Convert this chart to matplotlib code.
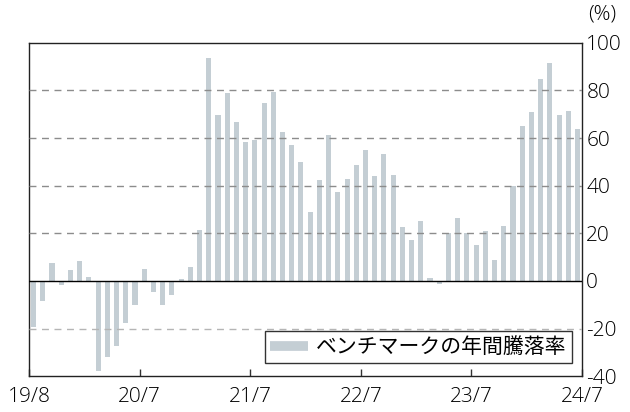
import matplotlib
matplotlib.use("Agg")
import matplotlib.pyplot as plt
from matplotlib.lines import Line2D

plt.rcParams['font.family'] = ['Open Sans', 'Noto Sans CJK JP', 'DejaVu Sans']

months = [f"{y}/{m}" for y, m in
          [(19, m) for m in range(8, 13)] + [(yy, m) for yy in range(20, 24) for m in range(1, 13)] + [(24, m) for m in range(1, 8)]]

values = [-19.4, -8.5, 7.5, -1.8, 4.5, 8.3, 1.5, -37.7, -32.0, -27.5, -17.7, -10.1,
          4.9, -4.6, -10.1, -6.0, 0.7, 5.8, 21.4, 93.7, 69.6, 78.9, 66.6, 58.2,
          59.4, 74.6, 79.3, 62.4, 56.9, 50.1, 29.0, 42.5, 61.1, 37.5, 43.0, 48.9,
          54.8, 44.2, 53.5, 44.6, 22.7, 17.2, 25.2, 1.1, -1.1, 20.1, 26.5, 20.1,
          15.1, 21.0, 8.7, 23.1, 40.0, 64.9, 70.8, 84.8, 91.5, 69.6, 71.3, 63.7]

xtick_labels = ["19/8", "20/7", "21/7", "22/7", "23/7", "24/7"]
ytick_values = [-40, -20, 0, 20, 40, 60, 80, 100]
legend_label = "ベンチマークの年間騰落率"

bar_color = "#c4ced4"
FS = 15
LFS = 15

fig = plt.figure(figsize=(6.3, 4.12), dpi=100)
ax = fig.add_axes([0.046, 0.087, 0.878, 0.809])

x = list(range(len(values)))
ax.bar(x, values, width=0.55, color=bar_color, zorder=2)

ax.set_xlim(-0.5, len(values) - 0.5)
ax.set_ylim(-40, 100)

for v in [20, 40, 60, 80]:
    ax.axhline(v, color="#8c8c8c", lw=1.0, ls=(0, (5, 4)), zorder=3)
ax.axhline(-20, color="#b5b5b5", lw=1.0, ls=(0, (5, 4)), zorder=3)
ax.axhline(0, color="black", lw=1.0, zorder=4)

ax.set_xticks([-0.5 + 12 * i for i in range(6)])
ax.set_xticklabels(xtick_labels, fontsize=FS, fontweight='light')
ax.tick_params(axis='x', direction='in', length=5, width=1, color="#333333", pad=8)

ax.yaxis.tick_right()
ax.set_yticks(ytick_values)
ax.set_yticklabels([str(v) for v in ytick_values], fontsize=FS, fontweight='light')
ax.tick_params(axis='y', length=0, pad=3)

for s in ax.spines.values():
    s.set_color("#222222")
    s.set_linewidth(1.0)

ax.annotate("(%)", xy=(1.0, 1.0), xycoords='axes fraction', xytext=(4, 13),
            textcoords='offset points', fontsize=FS, fontweight='light', ha='left', va='bottom')

handle = Line2D([0], [0], color=bar_color, lw=7, solid_capstyle='butt')
leg = ax.legend([handle], [legend_label], loc='lower right', bbox_to_anchor=(0.981, 0.039),
                prop={'family': ['Noto Sans CJK JP', 'DejaVu Sans'], 'size': LFS},
                frameon=True, fancybox=False, edgecolor="black",
                handlelength=1.8, borderpad=0.25, handletextpad=0.4, borderaxespad=0)
leg.get_frame().set_linewidth(1.0)
leg.set_zorder(5)

fig.savefig("out.png", dpi=100)
